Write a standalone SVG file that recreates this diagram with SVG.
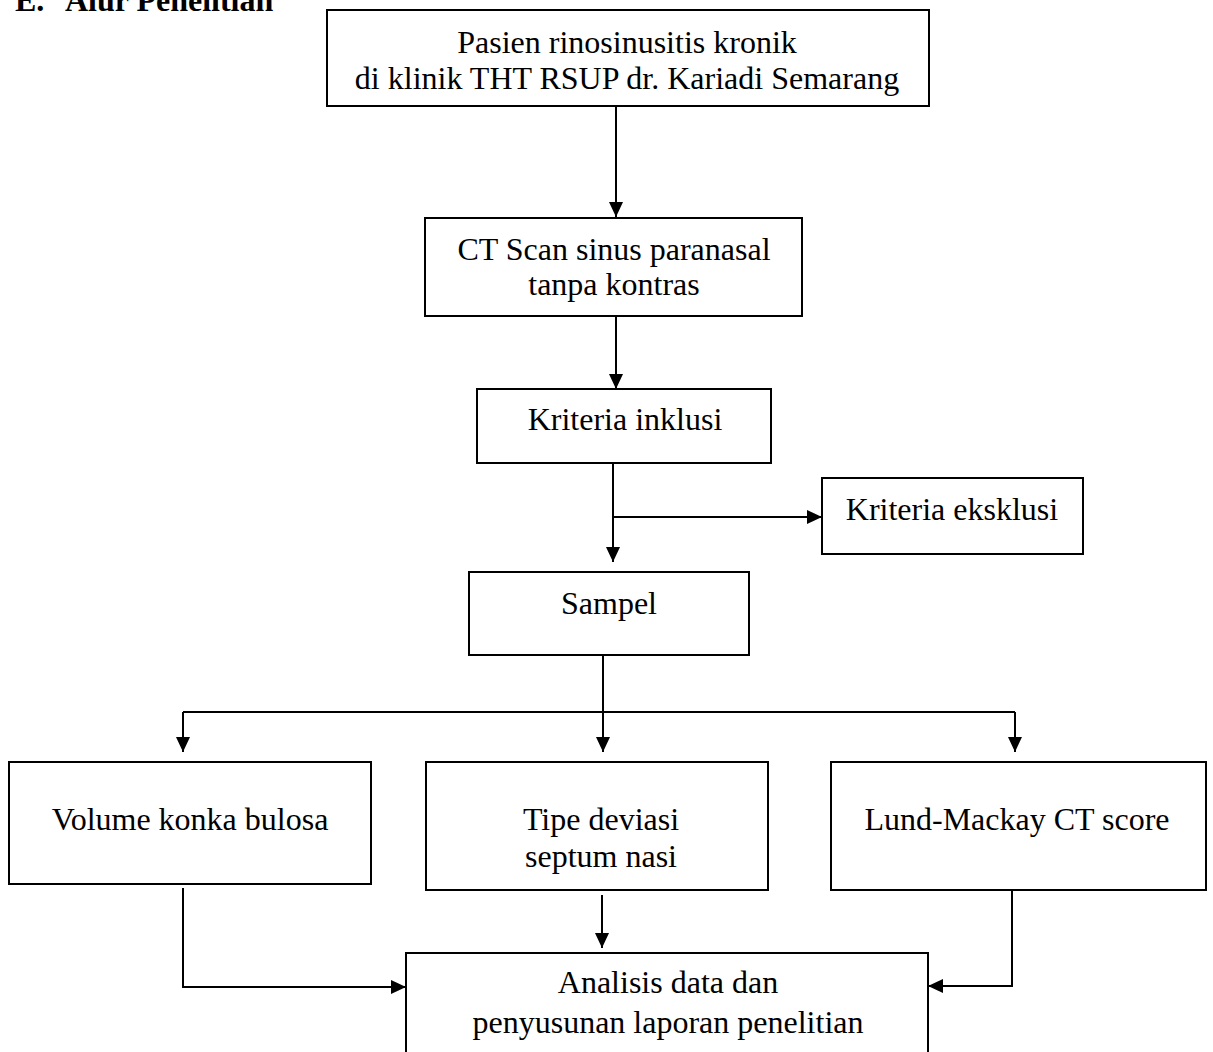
<svg xmlns="http://www.w3.org/2000/svg" width="1213" height="1052" viewBox="0 0 1213 1052">
<defs>
<style>
.box{fill:#fff;stroke:#000;stroke-width:2}
.t{font-family:"Liberation Serif","Times New Roman",serif;font-size:32px;fill:#000;text-anchor:middle}
.h{font-family:"Liberation Serif","Times New Roman",serif;font-size:32px;font-weight:bold;fill:#000}
.c{fill:none;stroke:#000;stroke-width:2}
.a{marker-end:url(#arr)}
</style>
<marker id="arr" viewBox="0 0 15 14" refX="15" refY="7" markerWidth="15" markerHeight="14" markerUnits="userSpaceOnUse" orient="auto">
<path d="M0,0 L15,7 L0,14 z" fill="#000"/>
</marker>
</defs>
<rect width="1213" height="1052" fill="#fff"/>
<text class="h" x="15" y="11">E.<tspan x="65">Alur Penelitian</tspan></text>
<g id="connectors">
<path class="c a" d="M616,106 V217"/>
<path class="c a" d="M616,316 V389"/>
<path class="c a" d="M613,463 V562"/>
<path class="c a" d="M613,517 H822"/>
<path class="c" d="M603,655 V712"/>
<path class="c" d="M183,712 H1015"/>
<path class="c a" d="M183,712 V752"/>
<path class="c a" d="M603,712 V752"/>
<path class="c a" d="M1015,712 V752"/>
<path class="c a" d="M183,888 V987 H406"/>
<path class="c a" d="M602,895 V948"/>
<path class="c a" d="M1012,890 V986 H928"/>
</g>
<g id="n1"><rect class="box" x="327" y="10" width="602" height="96"/>
<text class="t" x="627" y="53">Pasien rinosinusitis kronik</text>
<text class="t" x="627" y="89">di klinik THT RSUP dr. Kariadi Semarang</text></g>
<g id="n2"><rect class="box" x="425" y="218" width="377" height="98"/>
<text class="t" x="614" y="260">CT Scan sinus paranasal</text>
<text class="t" x="614" y="295">tanpa kontras</text></g>
<g id="n3"><rect class="box" x="477" y="389" width="294" height="74"/>
<text class="t" x="625" y="430">Kriteria inklusi</text></g>
<g id="n4"><rect class="box" x="822" y="478" width="261" height="76"/>
<text class="t" x="952" y="520">Kriteria eksklusi</text></g>
<g id="n5"><rect class="box" x="469" y="572" width="280" height="83"/>
<text class="t" x="609" y="614">Sampel</text></g>
<g id="n6"><rect class="box" x="9" y="762" width="362" height="122"/>
<text class="t" x="190" y="830">Volume konka bulosa</text></g>
<g id="n7"><rect class="box" x="426" y="762" width="342" height="128"/>
<text class="t" x="601" y="830">Tipe deviasi</text>
<text class="t" x="601" y="867">septum nasi</text></g>
<g id="n8"><rect class="box" x="831" y="762" width="375" height="128"/>
<text class="t" x="1017" y="830">Lund-Mackay CT score</text></g>
<g id="n9"><rect class="box" x="406" y="953" width="522" height="110"/>
<text class="t" x="668" y="993">Analisis data dan</text>
<text class="t" x="668" y="1033">penyusunan laporan penelitian</text></g>
</svg>
